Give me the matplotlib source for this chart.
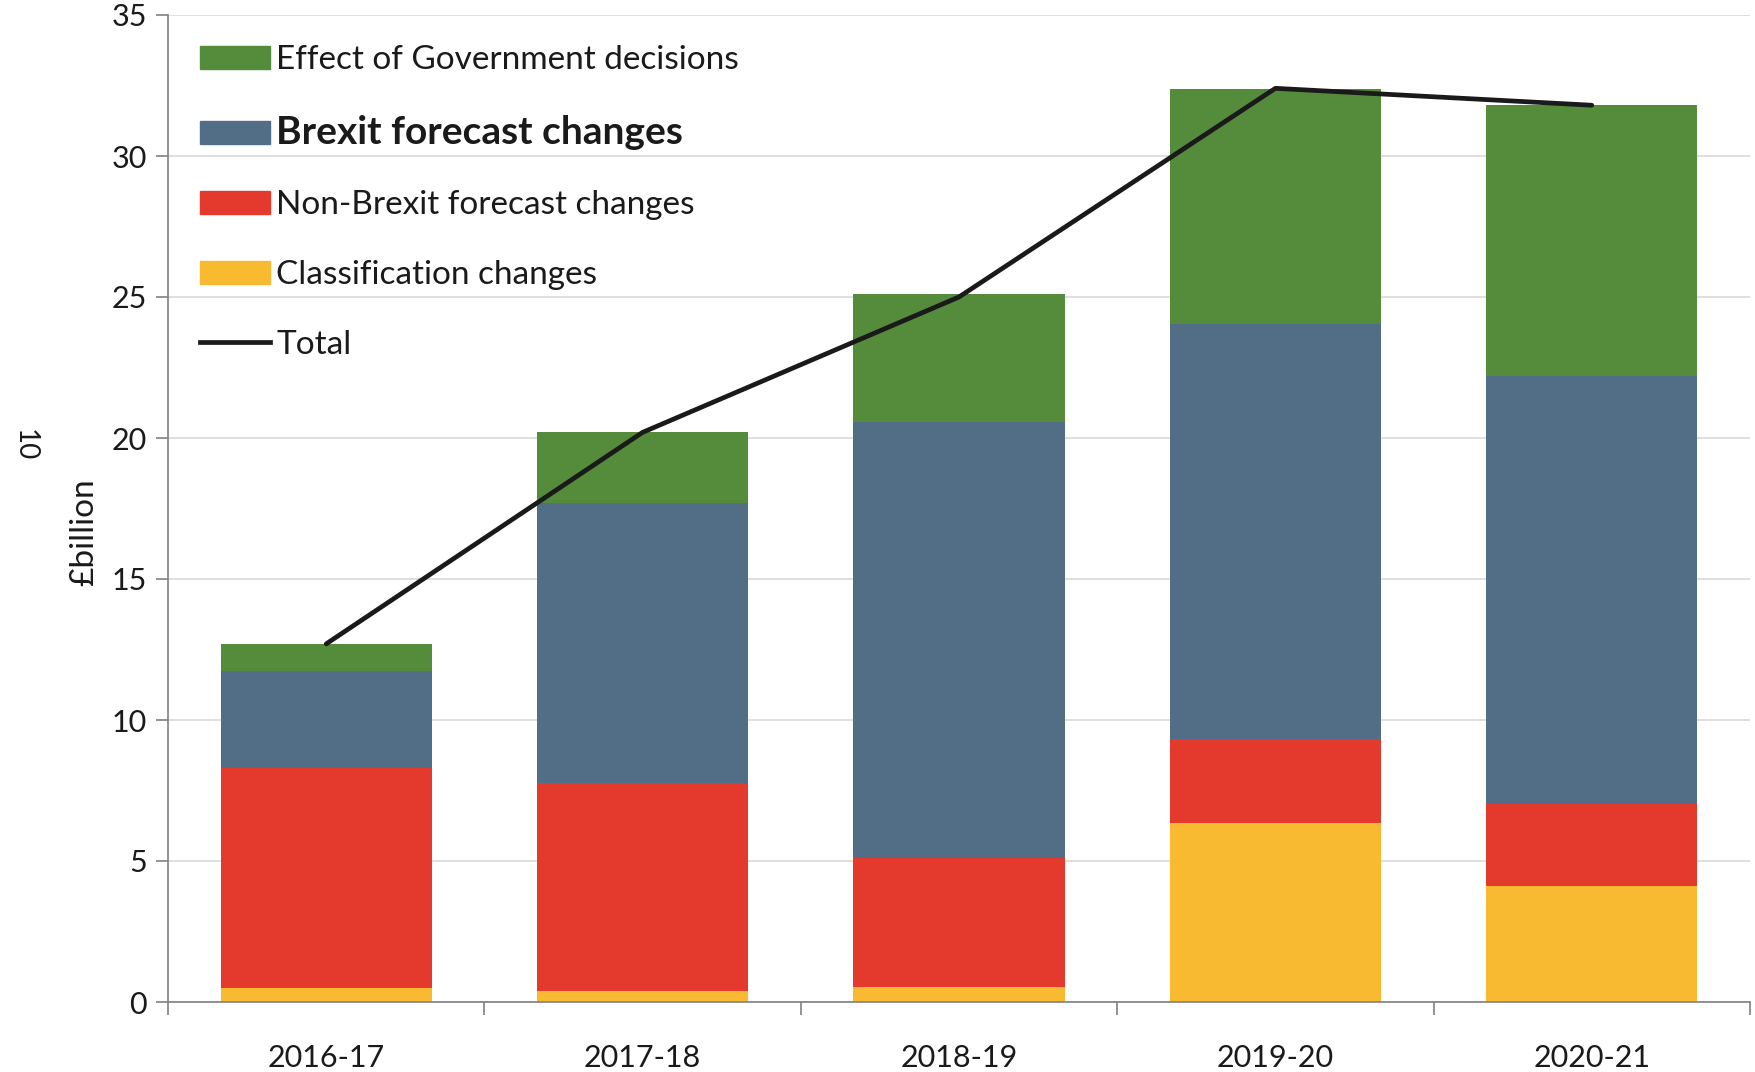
import matplotlib.pyplot as plt
import numpy as np
from matplotlib.patches import Patch
from matplotlib.lines import Line2D

plt.rcParams['font.family'] = ['Lato', 'DejaVu Sans']

years = ['2016-17', '2017-18', '2018-19', '2019-20', '2020-21']
classification = [0.50, 0.40, 0.52, 6.35, 4.12]
non_brexit = [7.80, 7.35, 4.60, 2.98, 2.90]
brexit = [3.42, 9.95, 15.45, 14.70, 15.18]
govt_decisions = [0.98, 2.52, 4.53, 8.35, 9.62]
total = [12.7, 20.2, 25.0, 32.4, 31.8]

col_green = '#548C3B'
col_blue = '#526E87'
col_red = '#E43A2D'
col_yellow = '#F8BA30'

fig = plt.figure(figsize=(17.56, 10.72), dpi=100)
ax = fig.add_axes([168 / 1756, 1 - 1002 / 1072, (1750 - 168) / 1756, (1002 - 15) / 1072])

ind = np.arange(len(years))
barWidth = 0.667

bottom = np.zeros(len(years))
for vals, col in [(classification, col_yellow), (non_brexit, col_red),
                  (brexit, col_blue), (govt_decisions, col_green)]:
    ax.bar(ind, vals, barWidth, bottom=bottom, color=col, zorder=2)
    bottom += np.array(vals)

ax.plot(ind, total, color='#1a1a1a', lw=3.4, solid_capstyle='round', zorder=3)

ax.set_xlim(-0.5, len(years) - 0.5)
ax.set_ylim(0, 35)
ax.set_yticks(np.arange(0, 36, 5))
ax.yaxis.grid(True, color='#d9d9d9', lw=1.2, zorder=0)
ax.set_axisbelow(True)

# tick marks at category boundaries, labels at the centres
ax.set_xticks(np.arange(-0.5, len(years)), labels=[])
ax.set_xticks(ind, labels=years, minor=True)
ax.tick_params(axis='x', which='major', length=9, width=1.2, color='#808080', direction='out')
ax.tick_params(axis='x', which='minor', length=0, pad=30, labelsize=22, labelcolor='#1a1a1a')
ax.tick_params(axis='y', length=9, width=1.2, color='#808080', labelsize=22,
               labelcolor='#1a1a1a', pad=6)

for s in ['top', 'right']:
    ax.spines[s].set_visible(False)
for s in ['left', 'bottom']:
    ax.spines[s].set_color('#808080')
    ax.spines[s].set_linewidth(1.2)

fig.text(84 / 1756, 1 - 532 / 1072, '£billion', rotation=90, ha='center', va='center',
         fontsize=24, color='#1a1a1a')
fig.text(25 / 1756, 1 - 445 / 1072, '10', rotation=-90, ha='center', va='center',
         fontsize=20, color='#1a1a1a')

handles = [Patch(color=col_green), Patch(color=col_blue), Patch(color=col_red),
           Patch(color=col_yellow), Line2D([], [], color='#1a1a1a', lw=3.4)]
labels = ['Effect of Government decisions', 'Brexit forecast changes',
          'Non-Brexit forecast changes', 'Classification changes', 'Total']
leg = ax.legend(handles, labels, loc='upper left', bbox_to_anchor=(0.012, 0.983),
                frameon=False, fontsize=24, handlelength=2.1, handleheight=0.72,
                handletextpad=0.18, labelspacing=1.2, borderaxespad=0)
for t in leg.get_texts():
    t.set_color('#1a1a1a')
leg.get_texts()[1].set_fontweight('bold')
leg.get_texts()[1].set_fontsize(28)

fig.savefig('out.png', dpi=100)
